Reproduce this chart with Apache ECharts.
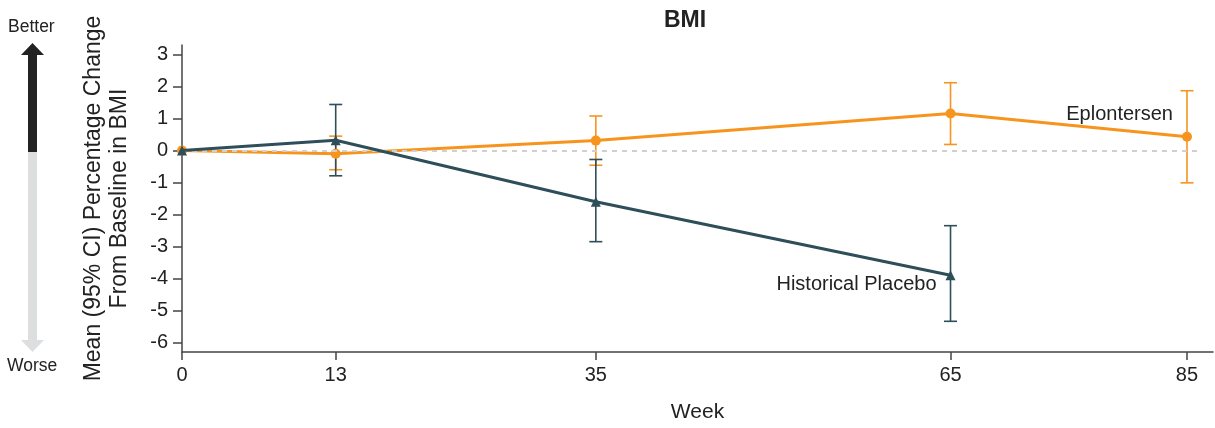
<!DOCTYPE html>
<html>
<head>
<meta charset="utf-8">
<script src="https://cdn.jsdelivr.net/npm/echarts@6/dist/echarts.min.js"></script>
<style>html,body{margin:0;padding:0;background:#fff}#c{width:1215px;height:428px}</style>
</head>
<body>
<div id="c"></div>
<script>
const weeks = [0, 13, 35, 65, 85];
const yTicks = [-6, -5, -4, -3, -2, -1, 0, 1, 2, 3];

const eploWeeks = [0, 13, 35, 65, 85];
const eploMean  = [0, -0.1, 0.31, 1.16, 0.43];
const eploLow   = [null, -0.6, -0.46, 0.19, -1.01];
const eploHigh  = [null, 0.45, 1.08, 2.12, 1.87];

const placWeeks = [0, 13, 35, 65];
const placMean  = [0, 0.32, -1.6, -3.9];
const placLow   = [null, -0.79, -2.85, -5.34];
const placHigh  = [null, 1.44, -0.28, -2.35];

const ORANGE = '#F7941D';
const DARK = '#2E4E59';
const FONT = 'Liberation Sans, Arial, sans-serif';

function ciData(ws, lo, hi) {
  const out = [];
  ws.forEach((w, i) => { if (lo[i] != null) out.push([w, lo[i], hi[i]]); });
  return out;
}
function ciSeries(data, color) {
  return {
    type: 'custom', data: data, silent: true, z: 3,
    renderItem: function (params, api) {
      const x = api.value(0);
      const p1 = api.coord([x, api.value(1)]);
      const p2 = api.coord([x, api.value(2)]);
      const hw = 6.5;
      const st = { stroke: color, lineWidth: 1.6 };
      return { type: 'group', children: [
        { type: 'line', shape: { x1: p1[0], y1: p1[1], x2: p2[0], y2: p2[1] }, style: st },
        { type: 'line', shape: { x1: p1[0] - hw, y1: p1[1], x2: p1[0] + hw, y2: p1[1] }, style: st },
        { type: 'line', shape: { x1: p2[0] - hw, y1: p2[1], x2: p2[0] + hw, y2: p2[1] }, style: st }
      ]};
    }
  };
}

const eploData = eploWeeks.map((w, i) => [w, eploMean[i]]);
const placData = placWeeks.map((w, i) => [w, placMean[i]]);
eploData[4] = { value: eploData[4], label: { show: true, position: 'left', formatter: 'Eplontersen', offset: [-4, -22], color: '#222', fontSize: 20, fontFamily: FONT } };
placData[3] = { value: placData[3], label: { show: true, position: 'left', formatter: 'Historical Placebo', offset: [-4, 9], color: '#222', fontSize: 20, fontFamily: FONT } };

const chart = echarts.init(document.getElementById('c'));
chart.setOption({
  animation: false,
  backgroundColor: '#fff',
  title: { text: 'BMI', left: 680, top: 4, textAlign: 'center',
    textStyle: { fontFamily: FONT, fontWeight: 'bold', fontSize: 23, color: '#222' } },
  grid: { left: 182, right: 2, top: 45, bottom: 76 },
  xAxis: {
    type: 'value', min: 0, max: 87.2,
    name: 'Week', nameLocation: 'middle', nameGap: 50,
    nameTextStyle: { fontFamily: FONT, fontSize: 21, color: '#222' },
    axisLine: { show: true, onZero: false, lineStyle: { color: '#444', width: 1.5 } },
    axisTick: { show: true, length: 8, customValues: weeks, lineStyle: { color: '#444', width: 1.5 } },
    axisLabel: { customValues: weeks, margin: 13, fontFamily: FONT, fontSize: 20, color: '#222' },
    splitLine: { show: false }
  },
  yAxis: {
    type: 'value', min: -6.3, max: 3.3,
    name: 'Mean (95% CI) Percentage Change\nFrom Baseline in BMI',
    nameLocation: 'middle', nameGap: 49, nameRotate: 90,
    nameTextStyle: { fontFamily: FONT, fontSize: 23, color: '#222', lineHeight: 26, align: 'center' },
    axisLine: { show: true, onZero: false, lineStyle: { color: '#444', width: 1.5 } },
    axisTick: { show: true, length: 9, customValues: yTicks, lineStyle: { color: '#444', width: 1.5 } },
    axisLabel: { customValues: yTicks, margin: 14, fontFamily: FONT, fontSize: 20, color: '#222' },
    splitLine: { show: false }
  },
  graphic: [
    { type: 'text', left: 8, top: 18, style: { text: 'Better', fontFamily: FONT, fontSize: 17.5, fill: '#222' } },
    { type: 'polygon', shape: { points: [[21, 55], [32.5, 43], [44, 55]] }, style: { fill: '#222' } },
    { type: 'rect', shape: { x: 28, y: 54, width: 9, height: 98 }, style: { fill: '#222' } },
    { type: 'rect', shape: { x: 28, y: 152, width: 9, height: 189 }, style: { fill: '#DDDEE0' } },
    { type: 'polygon', shape: { points: [[21, 340], [32.5, 352], [44, 340]] }, style: { fill: '#DDDEE0' } },
    { type: 'text', left: 7, top: 357, style: { text: 'Worse', fontFamily: FONT, fontSize: 17.5, fill: '#222' } }
  ],
  series: [
    {
      type: 'line', data: [], silent: true,
      markLine: { silent: true, symbol: 'none', label: { show: false },
        lineStyle: { color: '#D0D0D0', type: [5, 5], width: 2 },
        data: [[{ coord: [0, 0] }, { coord: [86, 0] }]] }
    },
    ciSeries(ciData(eploWeeks, eploLow, eploHigh), ORANGE),
    {
      type: 'line', name: 'Eplontersen', data: eploData, z: 4,
      symbol: 'circle', symbolSize: 10,
      lineStyle: { color: ORANGE, width: 3 }, itemStyle: { color: ORANGE }
    },
    ciSeries(ciData(placWeeks, placLow, placHigh), DARK),
    {
      type: 'line', name: 'Historical Placebo', data: placData, z: 5,
      symbol: 'triangle', symbolSize: 10,
      lineStyle: { color: DARK, width: 3 }, itemStyle: { color: DARK }
    }
  ]
});
</script>
</body>
</html>
